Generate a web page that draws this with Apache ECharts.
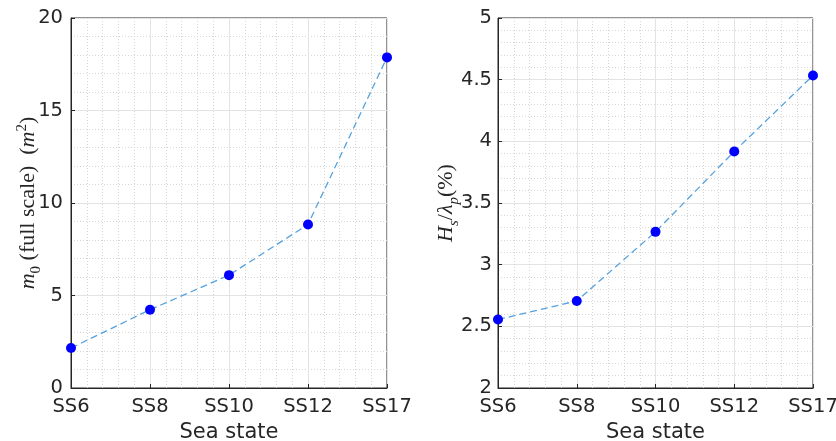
<!DOCTYPE html>
<html><head><meta charset="utf-8">
<script src="https://cdn.jsdelivr.net/npm/echarts@6/dist/echarts.min.js"></script>
<style>html,body{margin:0;padding:0;background:#fff}#c{width:836px;height:441px}</style>
</head><body><div id="c"></div>
<script>
const categories = ['SS6','SS8','SS10','SS12','SS17'];
const m0Values = [2.16, 4.23, 6.10, 8.84, 17.87];
const steepValues = [2.555, 2.706, 3.266, 3.918, 4.534];
const xLabel = 'Sea state';

const chart = echarts.init(document.getElementById('c'));
const txt = '#262626';
const tickFont = {fontFamily: 'DejaVu Sans', fontSize: 19.5, color: txt};

function xAxisCfg(gi) {
  return {
    type: 'value', gridIndex: gi, min: 0, max: categories.length - 1, interval: 1,
    name: xLabel, nameLocation: 'middle', nameGap: 33,
    nameTextStyle: {fontFamily: 'DejaVu Sans', fontSize: 21, color: txt},
    axisLine: {show: true, lineStyle: {color: txt, width: 1}},
    axisTick: {show: true, inside: true, length: 4, lineStyle: {color: txt}},
    axisLabel: Object.assign({margin: 9, formatter: v => categories[v] || ''}, tickFont),
    splitLine: {show: true, lineStyle: {color: '#e3e3e3', width: 1}},
    minorTick: {show: false, splitNumber: 5},
    minorSplitLine: {show: true, lineStyle: {color: '#d6d6d6', type: [1, 2], width: 1}}
  };
}
function yAxisCfg(gi, min, max, interval, name, gap, rich, margin) {
  return {
    type: 'value', gridIndex: gi, min: min, max: max, interval: interval,
    name: name, nameLocation: 'middle', nameGap: gap, nameRotate: 90, nameMoveOverlap: false,
    nameTextStyle: {fontFamily: 'Liberation Serif', fontSize: 22, color: txt, rich: rich},
    axisLine: {show: true, lineStyle: {color: txt, width: 1}},
    axisTick: {show: true, inside: true, length: 4, lineStyle: {color: txt}},
    axisLabel: Object.assign({margin: margin, formatter: v => String(v)}, tickFont),
    splitLine: {show: true, lineStyle: {color: '#e3e3e3', width: 1}},
    minorTick: {show: false, splitNumber: 5},
    minorSplitLine: {show: true, lineStyle: {color: '#d6d6d6', type: [1, 2], width: 1}}
  };
}
const base = {fontFamily: 'Liberation Serif', fontSize: 22, color: txt};
const rich = {
  i: Object.assign({}, base, {fontStyle: 'italic'}),
  r: Object.assign({}, base),
  sub: Object.assign({}, base, {fontSize: 15, verticalAlign: 'bottom', padding: [0, 0, -5, 0]}),
  subi: Object.assign({}, base, {fontSize: 15, fontStyle: 'italic', verticalAlign: 'bottom', padding: [0, 0, -5, 0]}),
  sup: Object.assign({}, base, {fontSize: 15, verticalAlign: 'top', padding: [-2, 0, 0, 0]})
};

const lineStyle = {color: '#55a2de', width: 1.3, type: [7, 4]};
const itemStyle = {color: '#0000ff'};

chart.setOption({
  animation: false,
  grid: [
    {left: 71, right: 449, top: 18, bottom: 53, show: true, borderColor: txt, borderWidth: 1, containLabel: false, outerBoundsMode: 'none'},
    {left: 498, right: 23, top: 18, bottom: 53, show: true, borderColor: txt, borderWidth: 1, containLabel: false, outerBoundsMode: 'none'}
  ],
  xAxis: [xAxisCfg(0), xAxisCfg(1)],
  yAxis: [
    yAxisCfg(0, 0, 20, 5, '{i|m}{sub|0} {r|(full scale)  (}{i|m}{sup|2}{r|)}', 32, rich, 8),
    yAxisCfg(1, 2, 5, 0.5, '{i|H}{subi|s}{r|/}{i|λ}{subi|p}{r|(%)}', 41, rich, 6)
  ],
  series: [
    {type: 'line', xAxisIndex: 0, yAxisIndex: 0, data: m0Values.map((v, i) => [i, v]),
     symbol: 'circle', symbolSize: 10, lineStyle: lineStyle, itemStyle: itemStyle},
    {type: 'line', xAxisIndex: 1, yAxisIndex: 1, data: steepValues.map((v, i) => [i, v]),
     symbol: 'circle', symbolSize: 10, lineStyle: lineStyle, itemStyle: itemStyle}
  ]
});
</script></body></html>
